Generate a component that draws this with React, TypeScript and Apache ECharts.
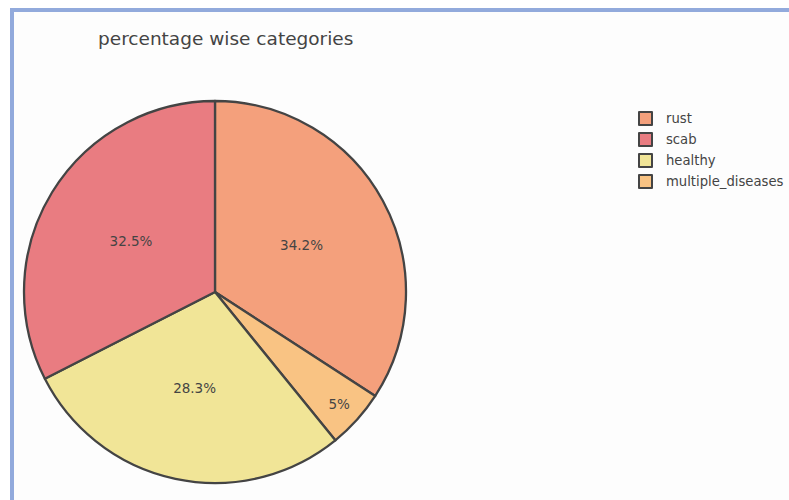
import React, { useEffect, useRef } from "react";
import * as echarts from "echarts";

const titleText = "percentage wise categories";
const legendOrder = ["rust", "scab", "healthy", "multiple_diseases"];
const sliceNames = ["rust", "multiple_diseases", "healthy", "scab"];
const sliceValues = [622, 91, 516, 592];
const sliceColors = ["#f4a07c", "#f9c383", "#f1e597", "#e97c81"];
const outsideLabelNames = ["multiple_diseases"];

const FONT = "DejaVu Sans";

export default function App() {
  const ref = useRef<HTMLDivElement>(null);
  useEffect(() => {
    if (!ref.current) return;
    const chart = echarts.init(ref.current, undefined, { renderer: "svg" });
    const fmt = (p: any) => `${+Number(p.percent).toFixed(1)}%`;
    const mainData = sliceNames.map((n, i) => ({
      name: n,
      value: sliceValues[i],
      itemStyle: { color: sliceColors[i] },
      label: { show: !outsideLabelNames.includes(n) },
    }));
    const overlayData = sliceNames.map((n, i) => ({
      name: n,
      value: sliceValues[i],
      itemStyle: { color: "rgba(0,0,0,0)", borderWidth: 0 },
      label: { show: outsideLabelNames.includes(n) },
    }));
    chart.setOption({
      animation: false,
      backgroundColor: "transparent",
      title: {
        text: titleText,
        left: 93,
        top: 24,
        textStyle: { fontFamily: FONT, fontSize: 18.5, fontWeight: "normal", color: "#444" },
      },
      legend: {
        data: legendOrder,
        orient: "vertical",
        left: 633,
        top: 106,
        itemWidth: 13,
        itemHeight: 13,
        itemGap: 6,
        icon: "rect",
        itemStyle: { borderColor: "#444", borderWidth: 2 },
        textStyle: { fontFamily: FONT, fontSize: 13.2, color: "#444", padding: [0, 0, 0, 9] },
        selectedMode: false,
      },
      series: [
        {
          type: "pie",
          center: [215, 292],
          radius: [0, 191],
          startAngle: 90,
          clockwise: true,
          percentPrecision: 1,
          avoidLabelOverlap: false,
          data: mainData,
          itemStyle: { borderColor: "#444", borderWidth: 2.3 },
          label: {
            position: "inside",
            formatter: fmt,
            fontFamily: FONT,
            fontSize: 13.5,
            color: "#444",
          },
          labelLine: { show: false },
          emphasis: { disabled: true },
        },
        {
          type: "pie",
          center: [215, 292],
          radius: [0, 328],
          startAngle: 90,
          clockwise: true,
          percentPrecision: 1,
          silent: true,
          avoidLabelOverlap: false,
          data: overlayData,
          label: {
            position: "inside",
            formatter: fmt,
            fontFamily: FONT,
            fontSize: 13.5,
            color: "#444",
          },
          labelLine: { show: false },
          emphasis: { disabled: true },
        },
      ],
    });
    return () => chart.dispose();
  }, []);
  return (
    <div style={{ position: "fixed", left: 0, top: 0, width: 789, height: 500, background: "#fff", overflow: "hidden" }}>
      <div
        style={{
          position: "absolute",
          left: 10,
          top: 8,
          width: 800,
          height: 500,
          borderTop: "4px solid #92aadc",
          borderLeft: "4px solid #92aadc",
          background: "#fdfdfd",
        }}
      />
      <div ref={ref} style={{ position: "absolute", left: 0, top: 0, width: 789, height: 500 }} />
    </div>
  );
}
